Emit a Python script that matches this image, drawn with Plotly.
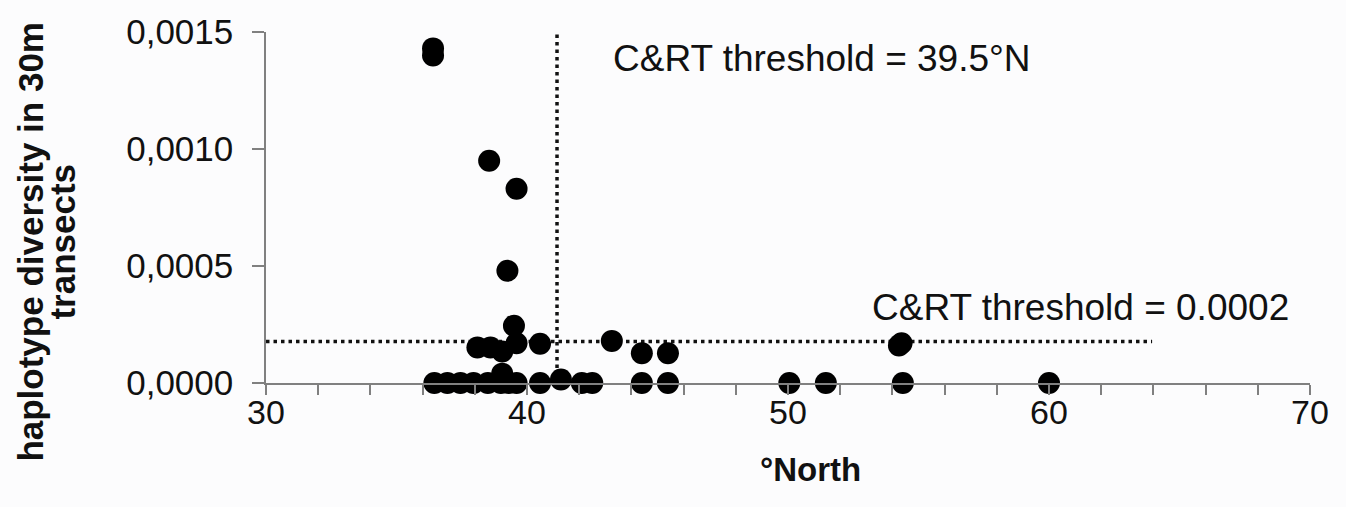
import plotly.graph_objects as go

# ---- data ----
north = [36.4, 36.4, 38.55, 39.6, 39.25, 39.5,
         38.1, 38.6, 39.05, 39.6, 40.5, 43.25, 44.4, 45.4, 54.25, 54.35,
         39.05, 41.3,
         36.45, 36.95, 37.45, 37.95, 38.5, 39.0, 39.3, 39.6, 40.5, 42.1, 42.5,
         44.4, 45.4, 50.05, 51.45, 54.4, 60.0]
diversity = [0.00143, 0.00140, 0.00095, 0.00083, 0.00048, 0.000245,
             0.000152, 0.000152, 0.000135, 0.00017, 0.000168, 0.00018, 0.000127, 0.000127, 0.00016, 0.00017,
             0.00004, 0.000015,
             0, 0, 0, 0, 0, 0, 0, 0, 0, 0, 0,
             0, 0, 0, 0, 0, 0]

lat_threshold_drawn = 41.15      # position of the vertical dotted line
div_threshold_drawn = 0.000177   # position of the horizontal dotted line
hline_end = 63.95
lat_label = "C&RT threshold = 39.5°N"
div_label = "C&RT threshold = 0.0002"
x_title = "°North"
y_title_lines = ["haplotype diversity in 30m", "transects"]

x_tickvals = [30, 40, 50, 60, 70]
x_ticktext = ["30", "40", "50", "60", "70"]
y_tickvals = [0, 0.0005, 0.0010, 0.0015]
y_ticktext = ["0,0000", "0,0005", "0,0010", "0,0015"]

FONT = "Liberation Sans, Arial, sans-serif"
AX = "#808080"
TXT = "#111111"

L, R, T, B = 266, 36, 28, 124
W, H = 1346, 507
pw = W - L - R
ph = H - T - B


def px(x):
    return (x - L) / pw


def py(y):
    return (H - B - y) / ph


fig = go.Figure()

fig.add_trace(go.Scatter(
    x=[30, hline_end], y=[div_threshold_drawn, div_threshold_drawn],
    mode="lines", line=dict(color=TXT, width=3.5, dash="3.5px,4px"),
    hoverinfo="skip", showlegend=False, cliponaxis=False))
fig.add_trace(go.Scatter(
    x=[lat_threshold_drawn, lat_threshold_drawn], y=[0, 0.0015],
    mode="lines", line=dict(color=TXT, width=3.5, dash="3.5px,4px"),
    hoverinfo="skip", showlegend=False, cliponaxis=False))

fig.add_trace(go.Scatter(
    x=north, y=diversity, mode="markers",
    marker=dict(color="black", size=22, line=dict(width=0)),
    showlegend=False, cliponaxis=False))

fig.update_layout(
    width=W, height=H,
    margin=dict(l=L, r=R, t=T, b=B),
    paper_bgcolor="#fcfcfd", plot_bgcolor="#fcfcfd",
    font=dict(family=FONT, size=33, color=TXT),
)

fig.add_annotation(x=px(611), y=py(55), xref="paper", yref="paper",
                   text=lat_label, showarrow=False, xanchor="left", yanchor="middle",
                   font=dict(size=37, family=FONT, color=TXT))
fig.add_annotation(x=px(1291), y=py(307), xref="paper", yref="paper",
                   text=div_label, showarrow=False, xanchor="right", yanchor="middle",
                   font=dict(size=37, family=FONT, color=TXT))
fig.add_annotation(x=px(810), y=py(470), xref="paper", yref="paper",
                   text="<b>" + x_title + "</b>", showarrow=False, xanchor="center", yanchor="middle",
                   font=dict(size=33, family=FONT, color=TXT))
fig.add_annotation(x=px(31), y=py(240), xref="paper", yref="paper",
                   text="<b>" + y_title_lines[0] + "</b>", showarrow=False,
                   textangle=-90, xanchor="center", yanchor="middle",
                   font=dict(size=35, family=FONT, color=TXT))
fig.add_annotation(x=px(63), y=py(240), xref="paper", yref="paper",
                   text="<b>" + y_title_lines[1] + "</b>", showarrow=False,
                   textangle=-90, xanchor="center", yanchor="middle",
                   font=dict(size=35, family=FONT, color=TXT))

fig.update_xaxes(
    range=[30, 70], showgrid=False, zeroline=False,
    showline=True, linecolor=AX, linewidth=1.5,
    tickvals=x_tickvals, ticktext=x_ticktext,
    ticks="outside", ticklen=10, tickcolor=AX, tickwidth=1.5,
    minor=dict(dtick=2, tick0=30, ticks="outside", ticklen=10, tickcolor=AX, tickwidth=1.5),
    tickfont=dict(size=34, family=FONT, color=TXT),
    ticklabelstandoff=-12,
)
fig.update_yaxes(
    range=[0, 0.0015], showgrid=False, zeroline=False,
    showline=True, linecolor=AX, linewidth=1.5,
    tickvals=y_tickvals, ticktext=y_ticktext,
    ticks="outside", ticklen=12, tickcolor=AX, tickwidth=1.5,
    tickfont=dict(size=35, family=FONT, color=TXT),
    ticklabelstandoff=12,
)

fig.write_html("out.html", config={"displayModeBar": False},
               post_script="document.body.style.margin='0';document.body.style.overflow='hidden';")
